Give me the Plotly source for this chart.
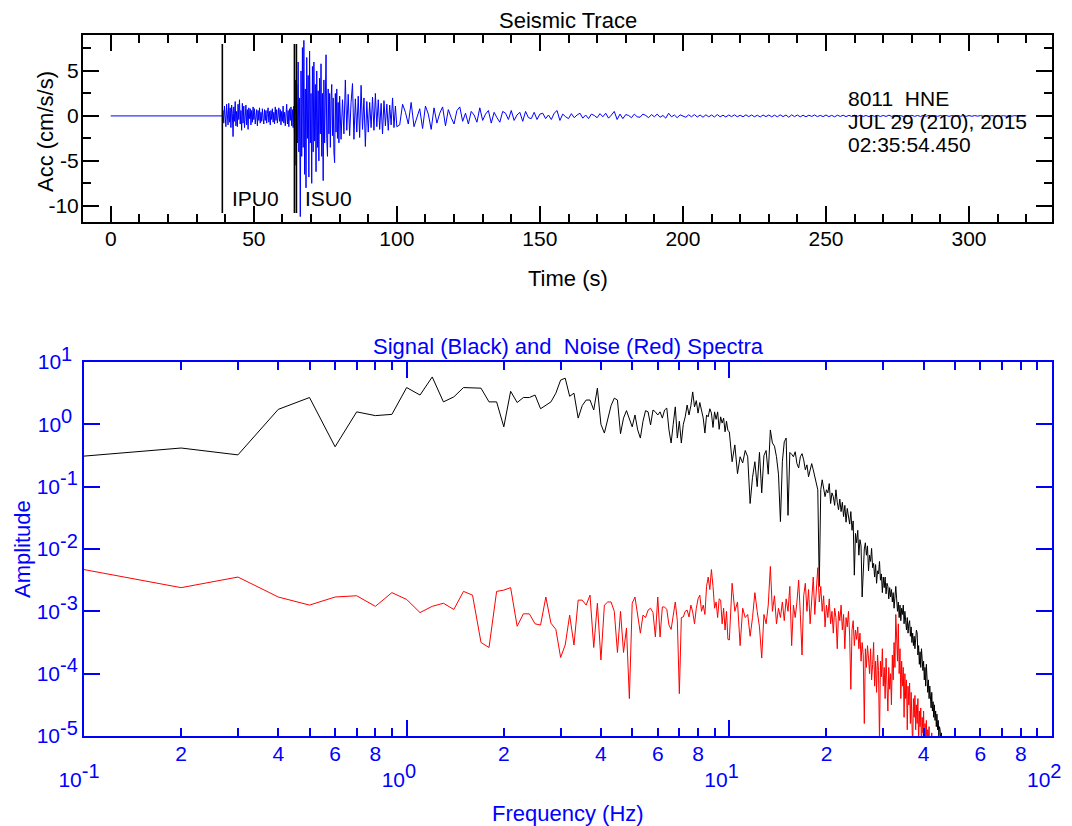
import plotly.graph_objects as go

# ---------------- Seismic trace (Acc, cm/s/s) ----------------
quiet_time = [0.0, 39.0]
quiet_acc = [0.0, 0.0]

p_start, p_dt = 39.25, 0.25
p_acc = [
    0.6, -0.8, 1.1, -0.5, -1.2, 1.3, 0.4, -1.0, 1.4, -0.7,
    0.9, -1.3, 1.2, 0.3, -2.3, 1.0, -0.6, 1.6, -1.1, 0.5,
    -1.2, 1.3, -0.4, 1.8, -0.9, 0.6, -1.6, 1.4, -0.8, 1.1,
    -1.3, 0.4, 1.2, -1.0, 0.7, -1.5, 0.9, -0.3, 0.8, -1.0,
    0.6, -0.7, 1.0, -0.4, 0.8, -0.9, 0.3, 0.7, -1.1, 0.6,
    -0.5, 0.9, -0.8, 0.4, -0.6, 0.8, -0.3, -0.9, 0.7, -0.5,
    0.6, -0.8, 0.3, 0.9, -0.7, 0.5, -1.0, 0.6, -0.4, 0.8,
    -0.7, 0.4, -0.9, 1.0, -0.5, 0.7, -0.8, 0.3, 0.9, -0.6,
    0.7, -1.0, 0.5, -0.6, 1.1, -0.8, 0.4, -1.1, 0.9, 1.3,
    -0.9, 0.6, -1.2, 0.8, -0.5, 1.0, -1.1, 0.7, -1.3, 1.1,
]

s_start, s_dt = 64.25, 0.25
s_acc = [
    -2.5, 4.0, -5.5, 3.5, -3.0, 6.0, -4.0, 2.0, -11.2, 5.0,
    -4.5, 7.6, -3.5, 8.4, -6.5, 3.0, -8.0, 6.5, -2.5, 4.5,
    -6.8, 7.2, -3.0, 2.5, -7.5, 5.5, -4.0, 6.0, -2.8, 3.5,
    -6.2, 5.0, -3.5, 2.8, -5.0, 4.2, -2.0, 5.8, -4.5, 2.5,
    -7.2, 4.0, -3.0, 3.2, 6.8, -2.5, -4.5, 3.0, -2.0, 2.5,
    -3.5, 1.8, 3.5, -2.2, 2.0, -4.0, -5.2, 2.5, -1.8, 3.0,
    -2.5, 1.5, -3.0, 2.2,
]

coda_start, coda_dt = 80.5, 0.5
coda_acc = [
    -2.6, 1.8, -2.0, 4.0, -1.6, 2.4, -2.2, 1.5, 3.6, -2.6,
    1.9, -1.8, 2.2, -2.4, 3.4, -1.5, 2.0, -3.4, 1.6, -1.8,
    1.5, -1.3, 2.1, -1.6, 2.5, -1.2, 1.8, -1.5, 1.4, -2.0,
    1.7, -1.1, 1.3, -1.6, 1.2, -1.0, 2.0, -1.3, 1.1, -1.2,
]

tail_start, tail_dt = 101.0, 1.0
tail_acc = [
    -1.0, 1.3, 0.4, -0.9, 1.5, -1.2, -0.3, 0.8, -1.4, 1.1,
    0.2, -1.5, 0.9, -0.8, 0.3, 1.0, -1.1, 0.7, -0.2, -0.9,
    0.6, 1.0, -0.6, 0.3, -0.9, 0.5, 0.1, -0.7, 0.9, -0.5,
    0.2, 0.6, -0.8, 0.4, -0.2, -0.7, 0.5, 0.3, -0.4, 0.6,
    -0.5, 0.1, 0.4, -0.6, 0.5, -0.2, -0.3, 0.4, -0.4, 0.2,
    0.3, -0.3, 0.1, -0.4, 0.3, 0.6, -0.5, 0.2, -0.1, -0.3,
    0.25, -0.2, 0.1, 0.3, -0.25, 0.1, -0.3, 0.2, 0.05, -0.2,
    0.25, -0.1, 0.3, -0.25, 0.1, 0.5, -0.4, 0.2, -0.3, 0.15,
    0.05, -0.2, 0.2, -0.1, -0.15, 0.2, 0.05, -0.2, 0.15, -0.1,
    0.2, -0.15, 0.05, -0.25, 0.3, -0.1, 0.1, -0.2, 0.12, -0.05,
    -0.15, 0.12, -0.1, 0.15, -0.12, 0.1, -0.15, 0.12, -0.1, 0.1,
    -0.12, 0.15, -0.1, 0.08, -0.12, 0.1, -0.08, 0.12, -0.1, 0.08,
    -0.1, 0.12, -0.08, 0.1, -0.1, 0.08, -0.12, 0.1, -0.08, 0.1,
    -0.1, 0.08, -0.1, 0.12, -0.08, 0.1, -0.15, 0.12, -0.08, 0.1,
    -0.1, 0.08, -0.1, 0.08, -0.06, 0.1, -0.08, 0.06, -0.08, 0.1,
    -0.08, 0.06, -0.1, 0.08, -0.06, 0.08, -0.08, 0.06, -0.06, 0.08,
    -0.06, 0.08, -0.06, 0.05, -0.08, 0.06, -0.05, 0.06, -0.06, 0.05,
    -0.06, 0.08, -0.05, 0.06, -0.05, 0.05, -0.06, 0.05, -0.05, 0.06,
    -0.05, 0.05, -0.06, 0.05, -0.04, 0.05, -0.05, 0.04, -0.05, 0.05,
    -0.04, 0.05, -0.05, 0.04, -0.04, 0.05, -0.04, 0.04, -0.05, 0.04,
    -0.04, 0.04, -0.03, 0.04, -0.04, 0.03, -0.04, 0.03, -0.03, 0.04,
    -0.03, 0.03, -0.04, 0.03, -0.03, 0.03, -0.03, 0.02, -0.03, 0.02,
]

pick_names = ["IPU0", "ISU0"]
pick_times = [39.0, 64.2]
pick_label_times = [41.6, 67.2]
pick_label_acc = -9.2
second_s_line = 64.9
pick_span = [-10.8, 8.0]

station_lines = ["8011  HNE", "JUL 29 (210), 2015", "02:35:54.450"]

time_ticks = [0, 50, 100, 150, 200, 250, 300]
acc_ticks = [-10, -5, 0, 5]

# ---------------- Spectra (log10 amplitude) ----------------
df_low, n_low = 0.1, 100       # 0.1 .. 10.0 Hz
df_high, f_high0 = 0.2, 10.0   # 10.2 .. 46.0 Hz

signal_low_log10 = [
    -0.51, -0.38, -0.49, 0.24, 0.43, -0.36, 0.20, 0.14, 0.16, 0.59,
    0.47, 0.76, 0.36, 0.44, 0.59, 0.59, 0.58, 0.36, 0.36, -0.04,
    0.53, 0.35, 0.43, 0.43, 0.47, 0.25, 0.31, 0.36, 0.50, 0.71,
    0.74, 0.45, 0.50, 0.10, 0.30, 0.39, 0.39, 0.23, 0.58, 0.00,
    -0.14, 0.10, 0.30, 0.42, 0.39, -0.15, 0.10, 0.22, 0.10, -0.04,
    0.15, -0.09, -0.22, 0.05, 0.22, 0.20, -0.01, 0.23, 0.20, 0.15,
    0.20, 0.10, 0.23, 0.26, -0.09, -0.30, 0.00, 0.28, -0.22, 0.05,
    -0.30, 0.00, 0.12, 0.31, 0.15, 0.30, 0.52, 0.28, 0.38, 0.18,
    0.35, 0.20, 0.10, -0.14, 0.15, 0.12, 0.25, 0.18, -0.05, 0.20,
    0.08, 0.20, -0.08, 0.12, 0.02, 0.10, -0.12, 0.05, -0.10, -0.12,
]
signal_high_log10 = [
    -0.60, -0.33, -0.79, -0.52, -0.62, -0.42, -0.52, -1.27, -0.85, -0.60,
    -1.00, -0.45, -1.10, -0.50, -0.42, -0.80, -0.09, -0.30, -0.35, -0.52,
    -0.80, -1.56, -0.60, -0.28, -0.22, -1.46, -0.45, -0.48, -0.52, -0.44,
    -0.63, -0.70, -0.52, -0.47, -0.57, -0.73, -0.65, -0.84, -0.73, -0.63,
    -0.73, -0.84, -0.95, -1.05, -2.60, -1.05, -0.89, -1.00, -1.16, -1.05,
    -1.10, -0.95, -1.27, -1.10, -1.16, -1.30, -1.05, -1.25, -1.37, -1.20,
    -1.40, -1.25, -1.48, -1.30, -1.57, -1.35, -1.45, -1.60, -1.40, -1.70,
    -1.55, -2.42, -1.75, -1.90, -1.70, -2.10, -1.85, -1.95, -2.77, -2.25,
    -2.00, -1.90, -2.10, -1.95, -2.35, -2.10, -2.20, -1.99, -2.30, -2.23,
    -2.45, -2.25, -2.55, -2.35, -2.40, -2.20, -2.50, -2.40, -2.70, -2.45,
    -2.62, -2.45, -2.72, -2.55, -2.60, -2.80, -2.62, -2.77, -2.65, -2.85,
    -2.70, -2.95, -2.75, -2.60, -2.80, -3.00, -2.85, -3.10, -2.90, -3.15,
    -2.95, -3.05, -2.90, -3.20, -3.00, -3.25, -3.30, -3.10, -3.35, -3.20,
    -3.15, -3.40, -3.25, -3.50, -3.35, -3.55, -3.40, -3.60, -3.45, -3.30,
    -3.35, -3.70, -3.55, -3.85, -3.65, -3.90, -3.60, -3.75, -3.95, -3.80,
    -4.10, -3.90, -4.20, -3.85, -4.05, -4.30, -4.10, -4.40, -4.20, -4.35,
    -4.55, -4.30, -4.60, -4.45, -4.70, -4.50, -4.75, -4.60, -4.85, -4.65,
    -4.90, -4.75, -5.00, -4.85, -4.90, -5.10, -4.95, -5.20, -5.05, -5.30,
]
noise_low_log10 = [
    -2.33, -2.62, -2.45, -2.77, -2.90, -2.77, -2.75, -2.92, -2.70, -2.81,
    -3.02, -2.92, -2.87, -2.97, -2.68, -2.74, -3.50, -3.58, -2.68, -2.66,
    -2.62, -3.24, -3.04, -3.04, -3.20, -3.22, -2.77, -3.19, -3.29, -3.74,
    -3.54, -3.06, -3.54, -2.82, -2.82, -2.90, -2.74, -3.58, -2.87, -3.78,
    -2.90, -2.85, -2.85, -3.00, -3.66, -3.00, -3.66, -3.27, -4.40, -2.87,
    -2.77, -3.03, -3.35, -3.06, -3.10, -2.98, -2.95, -3.02, -3.41, -2.77,
    -3.41, -2.93, -2.93, -2.97, -3.22, -3.29, -3.05, -2.85, -3.15, -4.32,
    -3.10, -3.09, -3.00, -2.98, -3.09, -2.90, -3.01, -3.20, -2.95, -2.80,
    -2.74, -3.00, -2.90, -3.05, -2.60, -2.45, -2.65, -2.33, -2.60, -2.95,
    -2.85, -3.10, -2.80, -2.82, -3.20, -2.95, -3.30, -3.00, -3.45, -3.46,
]
noise_high_log10 = [
    -2.55, -3.00, -2.85, -3.55, -2.95, -3.10, -3.05, -3.40, -3.10, -2.70,
    -3.00, -3.25, -3.75, -3.05, -3.20, -2.90, -2.28, -3.00, -2.75, -3.20,
    -2.95, -3.10, -2.85, -3.15, -2.80, -3.00, -2.60, -3.55, -2.90, -3.10,
    -2.85, -2.50, -3.05, -3.70, -2.75, -2.55, -3.00, -2.65, -3.20, -2.80,
    -2.45, -3.05, -2.70, -2.30, -2.85, -2.60, -3.00, -2.75, -3.25, -2.90,
    -3.10, -2.80, -3.20, -3.00, -3.35, -2.95, -3.10, -3.60, -3.00, -3.15,
    -2.90, -3.30, -3.05, -3.60, -3.10, -3.25, -3.00, -3.40, -4.25, -3.30,
    -3.15, -3.55, -3.30, -3.45, -3.25, -3.60, -3.35, -3.80, -3.50, -3.70,
    -4.80, -3.60, -3.90, -3.55, -3.75, -4.00, -3.60, -4.10, -3.85, -3.50,
    -4.20, -3.80, -4.30, -3.70, -3.95, -5.10, -3.80, -4.05, -3.60, -4.20,
    -3.90, -4.40, -3.75, -4.10, -4.60, -3.90, -4.25, -4.00, -4.50, -3.70,
    -4.10, -3.50, -3.90, -3.05, -3.40, -3.80, -3.20, -4.00, -3.60, -4.40,
    -3.80, -4.20, -3.90, -4.70, -4.00, -4.40, -4.10, -4.90, -4.20, -4.50,
    -4.15, -4.80, -4.30, -4.60, -5.20, -4.40, -4.70, -4.35, -4.90, -4.50,
    -4.80, -4.40, -5.10, -4.60, -4.85, -4.55, -5.20, -4.70, -4.95, -4.60,
    -5.30, -4.80, -5.05, -4.75, -5.40, -4.90, -5.10, -4.85, -5.50, -5.00,
    -5.20, -4.95, -5.60, -5.10, -5.30, -5.05, -5.70, -5.20, -5.50, -5.90,
    -5.40, -5.80, -5.60, -6.00, -5.70, -6.10, -5.90, -6.20, -6.00, -6.30,
]

freq_minor_ticks = [m * d for d in (0.1, 1.0, 10.0) for m in range(2, 10)]
freq_minor_text = [str(m) if m % 2 == 0 else "" for d in (0.1, 1.0, 10.0) for m in range(2, 10)]
freq_decades = [0.1, 1.0, 10.0, 100.0]
freq_decade_exp = [-1, 0, 1, 2]
amp_decades = [1e-5, 1e-4, 1e-3, 1e-2, 1e-1, 1e0, 1e1]
amp_decade_exp = [-5, -4, -3, -2, -1, 0, 1]

# ---------------- build series ----------------
def seg_times(start, dt, vals):
    return [round(start + dt * i, 4) for i in range(len(vals))]

trace_t = (quiet_time + seg_times(p_start, p_dt, p_acc) + seg_times(s_start, s_dt, s_acc)
           + seg_times(coda_start, coda_dt, coda_acc) + seg_times(tail_start, tail_dt, tail_acc))
trace_v = quiet_acc + p_acc + s_acc + coda_acc + tail_acc

freqs = ([round(df_low * (i + 1), 3) for i in range(n_low)]
         + [round(f_high0 + df_high * (i + 1), 3) for i in range(len(signal_high_log10))])
signal_amp = [10 ** v for v in signal_low_log10 + signal_high_log10]
noise_amp = [10 ** v for v in noise_low_log10 + noise_high_log10]

# ---------------- layout helpers ----------------
BLUE = "#0000FF"
FONT = "Liberation Sans, Arial, sans-serif"
TICK_SIZE = 21
TEXT_SIZE = 21
TITLE_SIZE = 22
OFF = 8                      # page body margin
FW, FH = 1072 - OFF, 826 - OFF


def PX(x):
    return (x - OFF) / FW


def PY(y):
    return 1 - (y - OFF) / FH


TOP_X = [PX(83), PX(1052)]
TOP_Y = [PY(222), PY(35)]
BOT_X = [PX(84), PX(1052)]
BOT_Y = [PY(736), PY(362)]


def pow_label(e):
    pad = "\u00a0" if e >= 0 else ""
    return "10<sup><span style='font-size:20px'>%d%s</span></sup>" % (e, pad)


fig = go.Figure()

# top: trace
fig.add_trace(go.Scatter(x=trace_t, y=trace_v, mode="lines",
                         line=dict(color=BLUE, width=1), xaxis="x", yaxis="y",
                         hoverinfo="skip"))
for t in pick_times + [second_s_line]:
    fig.add_trace(go.Scatter(x=[t, t], y=pick_span, mode="lines",
                             line=dict(color="black", width=1.6), xaxis="x", yaxis="y",
                             hoverinfo="skip"))

# bottom: spectra
fig.add_trace(go.Scatter(x=freqs, y=signal_amp, mode="lines",
                         line=dict(color="black", width=1), xaxis="x2", yaxis="y2"))
fig.add_trace(go.Scatter(x=freqs[:len(noise_amp)], y=noise_amp, mode="lines",
                         line=dict(color="#FF0000", width=1), xaxis="x2", yaxis="y2"))
fig.add_trace(go.Scatter(x=[], y=[], xaxis="x3", yaxis="y2", showlegend=False))

common_lin = dict(ticks="inside", tickwidth=2, showline=True, linewidth=2,
                  mirror="ticks", showgrid=False, zeroline=False, automargin=False)

fig.update_layout(
    template="none",
    width=FW, height=FH,
    margin=dict(l=0, r=0, t=0, b=0, pad=0, autoexpand=False),
    paper_bgcolor="white", plot_bgcolor="white",
    showlegend=False,
    font=dict(family=FONT, size=TICK_SIZE, color="black"),
    xaxis=dict(domain=TOP_X, anchor="y", range=[-9.7, 329],
               tickmode="array", tickvals=time_ticks, ticktext=[str(v) for v in time_ticks],
               ticklen=16, tickcolor="black", linecolor="black", ticklabelstandoff=-3,
               minor=dict(dtick=10, tick0=0, ticks="inside", ticklen=8, tickwidth=2,
                          tickcolor="black", showgrid=False),
               tickfont=dict(size=TICK_SIZE, color="black"), **common_lin),
    yaxis=dict(domain=TOP_Y, anchor="x", range=[-11.8, 9.0],
               tickmode="array", tickvals=acc_ticks, ticktext=[str(v) for v in acc_ticks],
               ticklen=16, tickcolor="black", linecolor="black", ticklabelstandoff=-2,
               minor=dict(dtick=2.5, tick0=0, ticks="inside", ticklen=8, tickwidth=2,
                          tickcolor="black", showgrid=False),
               tickfont=dict(size=TICK_SIZE, color="black"), **common_lin),
    xaxis2=dict(domain=BOT_X, anchor="y2", type="log", range=[-1, 2],
                tickmode="array", tickvals=freq_minor_ticks, ticktext=freq_minor_text,
                ticklen=8, tickcolor=BLUE, linecolor=BLUE, ticklabelstandoff=-2,
                tickfont=dict(size=TICK_SIZE, color=BLUE), **common_lin),
    xaxis3=dict(overlaying="x2", anchor="y2", side="bottom", type="log", range=[-1, 2],
                domain=BOT_X,
                tickmode="array", tickvals=freq_decades,
                ticktext=[pow_label(e) for e in freq_decade_exp],
                ticks="inside", ticklen=16, tickwidth=2, tickcolor=BLUE,
                showline=False, mirror="ticks", showgrid=False, zeroline=False,
                automargin=False, ticklabelstandoff=29, ticklabelshift=-5,
                tickfont=dict(size=TICK_SIZE, color=BLUE)),
    yaxis2=dict(domain=BOT_Y, anchor="x2", type="log", range=[-5, 1],
                tickmode="array", tickvals=amp_decades,
                ticktext=[pow_label(e) for e in amp_decade_exp],
                ticklen=16, tickcolor=BLUE, linecolor=BLUE, ticklabelstandoff=0,
                tickfont=dict(size=TICK_SIZE, color=BLUE), **common_lin),
)

ann = []


def paper_text(text, px, py, color="black", size=TEXT_SIZE, angle=0, xanchor="center"):
    ann.append(dict(text=text, x=PX(px), y=PY(py), xref="paper", yref="paper",
                    showarrow=False, xanchor=xanchor, yanchor="middle", textangle=angle,
                    font=dict(family=FONT, size=size, color=color)))


paper_text("Seismic Trace", 567.5, 20.5, size=TITLE_SIZE)
paper_text("Time (s)", 567.5, 278, size=TITLE_SIZE)
paper_text("Acc (cm/s/s)", 45, 132, size=TITLE_SIZE, angle=-90)
paper_text("Signal (Black) and\u00a0 Noise (Red) Spectra", 568, 346.5, color=BLUE, size=TITLE_SIZE)
paper_text("Frequency (Hz)", 568, 813, color=BLUE, size=TITLE_SIZE)
paper_text("Amplitude", 22.5, 549.5, color=BLUE, size=TITLE_SIZE, angle=-90)
for line, py in zip(station_lines, [98.5, 121.5, 144.5]):
    paper_text(line, 845.5, py, xanchor="left")
for name, t in zip(pick_names, pick_label_times):
    ann.append(dict(text=name, x=t, y=pick_label_acc, xref="x", yref="y", showarrow=False,
                    xanchor="left", yanchor="middle",
                    font=dict(family=FONT, size=TEXT_SIZE, color="black")))
fig.update_layout(annotations=ann)

fig.write_html("out.html")
